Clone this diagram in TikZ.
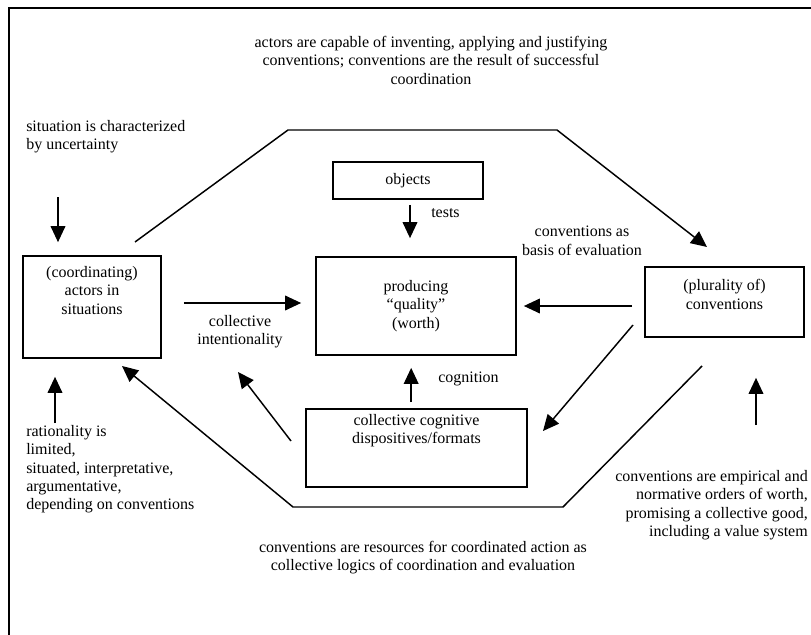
\documentclass[tikz,border=0pt]{standalone}
\usepackage{fontspec}
\setmainfont{Liberation Serif}
\usetikzlibrary{positioning,arrows.meta}
\tikzset{
	box/.style={draw, line width=1.3pt, inner sep=0pt, align=center, font=\fontsize{12}{13.8}\selectfont},
	txt/.style={inner sep=0pt, font=\fontsize{12}{13.8}\selectfont},
	arr/.style={line width=1.1pt, -{Triangle[length=12pt,width=11pt]}}
}

\begin{document}
\begin{tikzpicture}[x=0.75pt, y=-0.75pt]
	\useasboundingbox (0,0) rectangle (811,635);
	\draw[line width=1.6pt] (9,635) -- (9,8) -- (811,8);
	
	% boxes
	\node[box, minimum width=103.5pt, minimum height=76.5pt] (act) at (92,307) {};
	\node[box, minimum width=150pt, minimum height=73.5pt] (prod) at (416,306) {producing\\“quality”\\(worth)};
	\node[box, minimum width=112.5pt, minimum height=27.75pt] (obj) at (408,180.5) {objects};
	\node[box, minimum width=119.25pt, minimum height=52.5pt] (conv) at (724.5,302) {};
	\node[box, minimum width=165.75pt, minimum height=58.5pt] (cog) at (416.5,448) {};
	\node[txt, align=center, below=8.25pt of act.north] (actT) {(coordinating)\\actors in\\situations};
	\node[txt, align=center, below=9.75pt of conv.north] (convT) {(plurality of)\\conventions};
	\node[txt, align=center, below=4.5pt of cog.north] (cogT) {collective cognitive\\dispositives/formats};
	
	% texts
	\node[txt, align=center, anchor=north] (topT) at (431,36) {actors are capable of inventing, applying and justifying\\conventions; conventions are the result of successful\\coordination};
	\node[txt, align=left, anchor=north west] (sitT) at (26,120) {situation is characterized\\by uncertainty};
	\node[txt, align=center, anchor=north] (intT) at (240,315) {collective\\intentionality};
	\node[txt, anchor=north west] (testT) at (431,208) {tests};
	\node[txt, align=center, anchor=north] (basisT) at (582,226) {conventions as\\basis of evaluation};
	\node[txt, anchor=north west] (cognT) at (438,372) {cognition};
	\node[txt, align=left, anchor=north west] (ratT) at (26,425) {rationality is\\limited,\\situated, interpretative,\\argumentative,\\depending on conventions};
	\node[txt, align=center, anchor=north] (resT) at (423,541) {conventions are resources for coordinated action as\\collective logics of coordination and evaluation};
	\node[txt, align=right, anchor=north east] (empT) at (808,470) {conventions are empirical and\\normative orders of worth,\\promising a collective good,\\including a value system};
	
	% free ends and bends
	\coordinate (sitA) at (58,197);
	\coordinate (ratA) at (55,423);
	\coordinate (topA) at (135,242);
	\coordinate (topL) at (288,130);
	\coordinate (topR) at (557,130);
	\coordinate (topB) at (707,247);
	\coordinate (botA) at (702,366);
	\coordinate (botR) at (563,507);
	\coordinate (botL) at (293,507);
	\coordinate (botB) at (122,366);
	\coordinate (evA) at (633,325);
	\coordinate (evB) at (543,431);
	\coordinate (cogA) at (291,441);
	\coordinate (intA) at (238,372);
	\coordinate (empA) at (756,425);
	
	% connectors
	\draw[arr, shorten >=9.75pt] (sitA) -- (sitA |- act.north);
	\draw[arr, shorten >=13.5pt] (ratA) -- (ratA |- act.south);
	\draw[arr, shorten <=16.5pt, shorten >=10.5pt] ([yshift=3pt]act.east) -- ([yshift=3pt]act.east -| prod.west);
	\draw[arr, shorten <=3.75pt, shorten >=13.5pt] ([xshift=1.5pt]obj.south) -- ([xshift=1.5pt]obj.south |- prod.north);
	\draw[arr, shorten <=9pt, shorten >=5.25pt] (conv.west |- prod.east) -- (prod.east);
	\draw[arr, shorten <=4.5pt, shorten >=9pt] ([xshift=-4pt]cog.north) -- ([xshift=-4pt]cog.north |- prod.south);
	\draw[arr] (topA) -- (topL) -- (topR) -- (topB);
	\draw[arr] (botA) -- (botR) -- (botL) -- (botB);
	\draw[arr] (evA) -- (evB);
	\draw[arr] (cogA) -- (intA);
	\draw[arr, shorten >=30pt] (empA) -- (empA |- conv.south);
\end{tikzpicture}
\end{document}
